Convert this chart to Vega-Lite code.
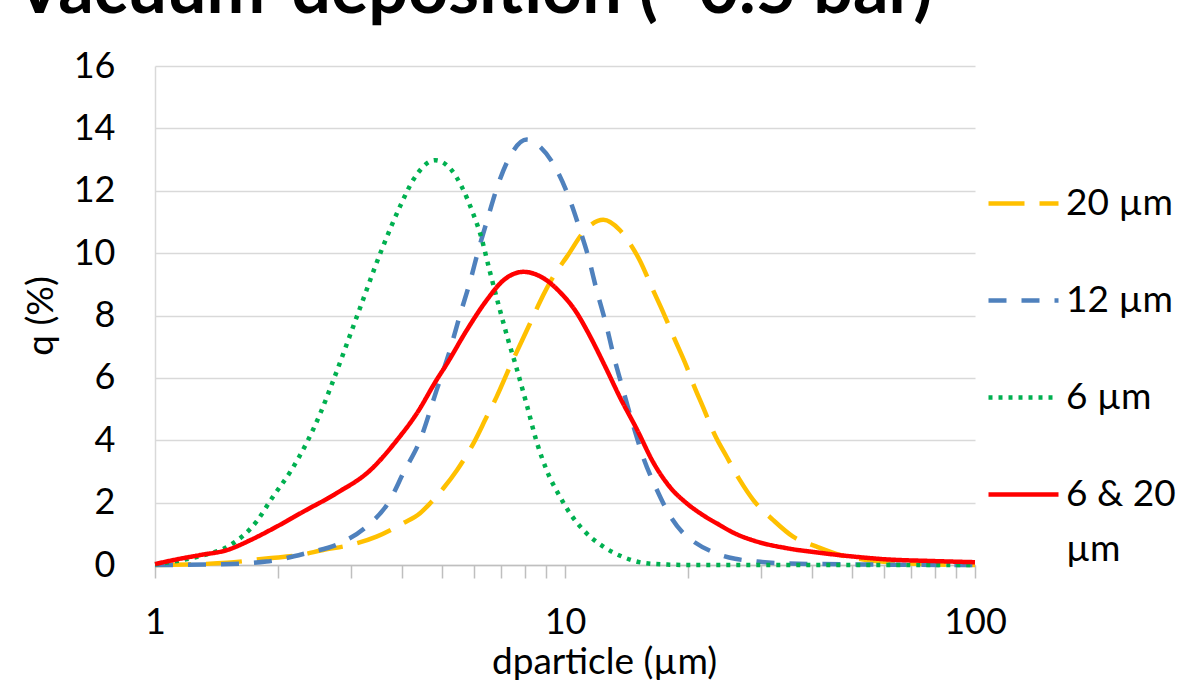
{
  "$schema": "https://vega.github.io/schema/vega-lite/v6.json",
  "width": 820,
  "height": 499,
  "autosize": "none",
  "padding": {"left": 155, "top": 66, "right": 205, "bottom": 118},
  "background": "white",
  "title": {"text": "Vacuum-deposition (~0.5 bar)", "anchor": "start", "frame": "group", "dx": -140, "dy": 35, "offset": 0, "baseline": "alphabetic", "font": "Lato", "fontSize": 70, "fontWeight": "bold", "color": "black"},
  "config": {"view": {"stroke": null}, "font": "Lato", "style": {"guide-label": {"lineHeight": 55}}},
  "data": {"values": [
    {"d": 1, "q": 0, "s": "20 µm"},
    {"d": 1.2, "q": 0.02, "s": "20 µm"},
    {"d": 1.5, "q": 0.07, "s": "20 µm"},
    {"d": 1.87, "q": 0.21, "s": "20 µm"},
    {"d": 2.26, "q": 0.32, "s": "20 µm"},
    {"d": 2.57, "q": 0.48, "s": "20 µm"},
    {"d": 2.99, "q": 0.64, "s": "20 µm"},
    {"d": 3.47, "q": 0.91, "s": "20 µm"},
    {"d": 4.03, "q": 1.34, "s": "20 µm"},
    {"d": 4.43, "q": 1.66, "s": "20 µm"},
    {"d": 4.69, "q": 1.98, "s": "20 µm"},
    {"d": 5.05, "q": 2.46, "s": "20 µm"},
    {"d": 5.45, "q": 3.04, "s": "20 µm"},
    {"d": 5.98, "q": 3.9, "s": "20 µm"},
    {"d": 6.44, "q": 4.75, "s": "20 µm"},
    {"d": 6.81, "q": 5.39, "s": "20 µm"},
    {"d": 7.34, "q": 6.36, "s": "20 µm"},
    {"d": 8.22, "q": 7.75, "s": "20 µm"},
    {"d": 8.69, "q": 8.44, "s": "20 µm"},
    {"d": 9.36, "q": 9.24, "s": "20 µm"},
    {"d": 10.1, "q": 9.88, "s": "20 µm"},
    {"d": 11.3, "q": 10.79, "s": "20 µm"},
    {"d": 12.4, "q": 11.07, "s": "20 µm"},
    {"d": 13.6, "q": 10.74, "s": "20 µm"},
    {"d": 14.4, "q": 10.31, "s": "20 µm"},
    {"d": 15.2, "q": 9.78, "s": "20 µm"},
    {"d": 16.4, "q": 8.81, "s": "20 µm"},
    {"d": 17.4, "q": 8.07, "s": "20 µm"},
    {"d": 18.4, "q": 7.32, "s": "20 µm"},
    {"d": 19.8, "q": 6.36, "s": "20 µm"},
    {"d": 20.6, "q": 5.77, "s": "20 µm"},
    {"d": 21.7, "q": 5.07, "s": "20 µm"},
    {"d": 23.2, "q": 4.17, "s": "20 µm"},
    {"d": 24.8, "q": 3.47, "s": "20 µm"},
    {"d": 26.7, "q": 2.72, "s": "20 µm"},
    {"d": 28.8, "q": 2.08, "s": "20 µm"},
    {"d": 32.2, "q": 1.44, "s": "20 µm"},
    {"d": 36, "q": 0.91, "s": "20 µm"},
    {"d": 41.1, "q": 0.59, "s": "20 µm"},
    {"d": 46.9, "q": 0.32, "s": "20 µm"},
    {"d": 54.5, "q": 0.16, "s": "20 µm"},
    {"d": 64.4, "q": 0.07, "s": "20 µm"},
    {"d": 80, "q": 0.02, "s": "20 µm"},
    {"d": 100, "q": 0, "s": "20 µm"},

    {"d": 1, "q": 0, "s": "12 µm"},
    {"d": 1.41, "q": 0.02, "s": "12 µm"},
    {"d": 1.87, "q": 0.11, "s": "12 µm"},
    {"d": 2.34, "q": 0.38, "s": "12 µm"},
    {"d": 2.83, "q": 0.7, "s": "12 µm"},
    {"d": 3.28, "q": 1.23, "s": "12 µm"},
    {"d": 3.74, "q": 2.08, "s": "12 µm"},
    {"d": 4.03, "q": 2.94, "s": "12 µm"},
    {"d": 4.43, "q": 4.0, "s": "12 µm"},
    {"d": 4.86, "q": 5.6, "s": "12 µm"},
    {"d": 5.24, "q": 6.89, "s": "12 µm"},
    {"d": 5.54, "q": 8.0, "s": "12 µm"},
    {"d": 5.87, "q": 9.1, "s": "12 µm"},
    {"d": 6.15, "q": 10.1, "s": "12 µm"},
    {"d": 6.44, "q": 11.0, "s": "12 µm"},
    {"d": 6.88, "q": 12.23, "s": "12 µm"},
    {"d": 7.34, "q": 13.1, "s": "12 µm"},
    {"d": 8.07, "q": 13.64, "s": "12 µm"},
    {"d": 8.61, "q": 13.46, "s": "12 µm"},
    {"d": 9.55, "q": 12.66, "s": "12 µm"},
    {"d": 10.28, "q": 11.7, "s": "12 µm"},
    {"d": 10.88, "q": 10.74, "s": "12 µm"},
    {"d": 11.4, "q": 9.88, "s": "12 µm"},
    {"d": 11.95, "q": 8.8, "s": "12 µm"},
    {"d": 12.64, "q": 7.64, "s": "12 µm"},
    {"d": 13.1, "q": 6.78, "s": "12 µm"},
    {"d": 13.9, "q": 5.55, "s": "12 µm"},
    {"d": 14.7, "q": 4.43, "s": "12 µm"},
    {"d": 15.5, "q": 3.47, "s": "12 µm"},
    {"d": 16.7, "q": 2.45, "s": "12 µm"},
    {"d": 18, "q": 1.6, "s": "12 µm"},
    {"d": 19.5, "q": 1.0, "s": "12 µm"},
    {"d": 20.6, "q": 0.75, "s": "12 µm"},
    {"d": 23.4, "q": 0.37, "s": "12 µm"},
    {"d": 26, "q": 0.2, "s": "12 µm"},
    {"d": 29.4, "q": 0.11, "s": "12 µm"},
    {"d": 35, "q": 0.05, "s": "12 µm"},
    {"d": 50, "q": 0.02, "s": "12 µm"},
    {"d": 100, "q": 0, "s": "12 µm"},

    {"d": 1, "q": 0.02, "s": "6 µm"},
    {"d": 1.1, "q": 0.1, "s": "6 µm"},
    {"d": 1.3, "q": 0.3, "s": "6 µm"},
    {"d": 1.52, "q": 0.62, "s": "6 µm"},
    {"d": 1.77, "q": 1.4, "s": "6 µm"},
    {"d": 1.93, "q": 2.15, "s": "6 µm"},
    {"d": 2.15, "q": 3.04, "s": "6 µm"},
    {"d": 2.34, "q": 3.9, "s": "6 µm"},
    {"d": 2.53, "q": 4.86, "s": "6 µm"},
    {"d": 2.7, "q": 5.8, "s": "6 µm"},
    {"d": 3.11, "q": 7.98, "s": "6 µm"},
    {"d": 3.56, "q": 10.06, "s": "6 µm"},
    {"d": 3.96, "q": 11.5, "s": "6 µm"},
    {"d": 4.27, "q": 12.36, "s": "6 µm"},
    {"d": 4.82, "q": 12.98, "s": "6 µm"},
    {"d": 5.29, "q": 12.66, "s": "6 µm"},
    {"d": 5.6, "q": 12.13, "s": "6 µm"},
    {"d": 5.98, "q": 11.24, "s": "6 µm"},
    {"d": 6.21, "q": 10.63, "s": "6 µm"},
    {"d": 6.56, "q": 9.4, "s": "6 µm"},
    {"d": 6.94, "q": 8.17, "s": "6 µm"},
    {"d": 7.27, "q": 7.21, "s": "6 µm"},
    {"d": 7.6, "q": 6.36, "s": "6 µm"},
    {"d": 8.07, "q": 5.13, "s": "6 µm"},
    {"d": 8.53, "q": 3.95, "s": "6 µm"},
    {"d": 9.02, "q": 3.04, "s": "6 µm"},
    {"d": 9.72, "q": 2.19, "s": "6 µm"},
    {"d": 10.28, "q": 1.66, "s": "6 µm"},
    {"d": 11.09, "q": 1.12, "s": "6 µm"},
    {"d": 12.4, "q": 0.59, "s": "6 µm"},
    {"d": 13.9, "q": 0.25, "s": "6 µm"},
    {"d": 15.5, "q": 0.07, "s": "6 µm"},
    {"d": 18, "q": 0.01, "s": "6 µm"},
    {"d": 20, "q": 0, "s": "6 µm"},
    {"d": 30, "q": 0, "s": "6 µm"},
    {"d": 50, "q": 0, "s": "6 µm"},
    {"d": 100, "q": 0, "s": "6 µm"},

    {"d": 1, "q": 0.03, "s": "6 & 20 µm"},
    {"d": 1.13, "q": 0.18, "s": "6 & 20 µm"},
    {"d": 1.29, "q": 0.32, "s": "6 & 20 µm"},
    {"d": 1.5, "q": 0.48, "s": "6 & 20 µm"},
    {"d": 1.71, "q": 0.8, "s": "6 & 20 µm"},
    {"d": 1.98, "q": 1.23, "s": "6 & 20 µm"},
    {"d": 2.3, "q": 1.71, "s": "6 & 20 µm"},
    {"d": 2.77, "q": 2.3, "s": "6 & 20 µm"},
    {"d": 3.35, "q": 3.04, "s": "6 & 20 µm"},
    {"d": 3.89, "q": 4.0, "s": "6 & 20 µm"},
    {"d": 4.35, "q": 4.86, "s": "6 & 20 µm"},
    {"d": 4.86, "q": 5.93, "s": "6 & 20 µm"},
    {"d": 5.15, "q": 6.45, "s": "6 & 20 µm"},
    {"d": 5.76, "q": 7.53, "s": "6 & 20 µm"},
    {"d": 6.44, "q": 8.49, "s": "6 & 20 µm"},
    {"d": 7.08, "q": 9.13, "s": "6 & 20 µm"},
    {"d": 7.91, "q": 9.4, "s": "6 & 20 µm"},
    {"d": 8.85, "q": 9.2, "s": "6 & 20 µm"},
    {"d": 9.72, "q": 8.75, "s": "6 & 20 µm"},
    {"d": 10.7, "q": 8.07, "s": "6 & 20 µm"},
    {"d": 11.3, "q": 7.53, "s": "6 & 20 µm"},
    {"d": 12.6, "q": 6.3, "s": "6 & 20 µm"},
    {"d": 13.6, "q": 5.39, "s": "6 & 20 µm"},
    {"d": 15, "q": 4.33, "s": "6 & 20 µm"},
    {"d": 16.4, "q": 3.3, "s": "6 & 20 µm"},
    {"d": 18, "q": 2.51, "s": "6 & 20 µm"},
    {"d": 19.8, "q": 1.98, "s": "6 & 20 µm"},
    {"d": 21.7, "q": 1.6, "s": "6 & 20 µm"},
    {"d": 23.7, "q": 1.3, "s": "6 & 20 µm"},
    {"d": 25.7, "q": 1.04, "s": "6 & 20 µm"},
    {"d": 29.4, "q": 0.75, "s": "6 & 20 µm"},
    {"d": 34.7, "q": 0.54, "s": "6 & 20 µm"},
    {"d": 41.9, "q": 0.39, "s": "6 & 20 µm"},
    {"d": 50.5, "q": 0.27, "s": "6 & 20 µm"},
    {"d": 60.9, "q": 0.18, "s": "6 & 20 µm"},
    {"d": 77.6, "q": 0.13, "s": "6 & 20 µm"},
    {"d": 100, "q": 0.09, "s": "6 & 20 µm"}
  ]},
  "mark": {"type": "line", "strokeWidth": 4.5, "interpolate": "monotone"},
  "encoding": {
    "x": {
      "field": "d", "type": "quantitative",
      "scale": {"type": "log", "domain": [1, 100], "nice": false},
      "axis": {
        "title": "dparticle (µm)",
        "values": [1, 2, 3, 4, 5, 6, 7, 8, 9, 10, 20, 30, 40, 50, 60, 70, 80, 90, 100],
        "labelExpr": "datum.value == 1 || datum.value == 10 || datum.value == 100 ? format(datum.value, 'd') : ''",
        "grid": false, "tickSize": 13, "tickColor": "#bfbfbf", "tickWidth": 1.5,
        "domainColor": "#bfbfbf", "domainWidth": 1.5,
        "labelFont": "Lato", "labelFontSize": 36, "labelColor": "black", "labelPadding": 27,
        "labelFlush": false, "labelOverlap": false, "labelBound": false,
        "titleFont": "Lato", "titleFontSize": 37, "titleFontWeight": "normal", "titleColor": "black", "titlePadding": 4,
        "titleX": 449, "titleAlign": "center"
      }
    },
    "y": {
      "field": "q", "type": "quantitative",
      "scale": {"domain": [0, 16], "nice": false},
      "axis": {
        "title": "q (%)",
        "values": [0, 2, 4, 6, 8, 10, 12, 14, 16],
        "grid": true, "gridColor": "#d9d9d9", "gridWidth": 1.5,
        "ticks": false, "tickSize": 0,
        "domainColor": "#d9d9d9", "domainWidth": 1.5,
        "labelFont": "Lato", "labelFontSize": 36, "labelColor": "black", "labelPadding": 40,
        "titleFont": "Lato", "titleFontSize": 37, "titleFontWeight": "normal", "titleColor": "black", "titlePadding": 13
      }
    },
    "color": {
      "field": "s", "type": "nominal",
      "scale": {"domain": ["20 µm", "12 µm", "6 µm", "6 & 20 µm"], "range": ["#FFC000", "#4F81BD", "#00B050", "#FF0000"]},
      "legend": {"title": null, "orient": "none", "legendX": 831, "legendY": 100, "symbolType": "stroke", "symbolSize": 4900, "symbolStrokeWidth": 4.5, "labelFont": "Lato", "labelFontSize": 37, "labelColor": "black", "labelOffset": 5, "rowPadding": 41, "padding": 0, "labelLimit": 300, "labelExpr": "datum.label == '6 & 20 µm' ? ['6 & 20', 'µm'] : datum.label"}
    },
    "strokeDash": {
      "field": "s", "type": "nominal",
      "scale": {"domain": ["20 µm", "12 µm", "6 µm", "6 & 20 µm"], "range": [[36, 15], [18, 15], [4, 6], [1, 0]]},
      "legend": {"title": null, "orient": "none", "legendX": 831, "legendY": 100, "symbolType": "stroke", "symbolSize": 4900, "symbolStrokeWidth": 4.5, "labelFont": "Lato", "labelFontSize": 37, "labelColor": "black", "labelOffset": 5, "rowPadding": 41, "padding": 0, "labelLimit": 300, "labelExpr": "datum.label == '6 & 20 µm' ? ['6 & 20', 'µm'] : datum.label"}
    }
  }
}
